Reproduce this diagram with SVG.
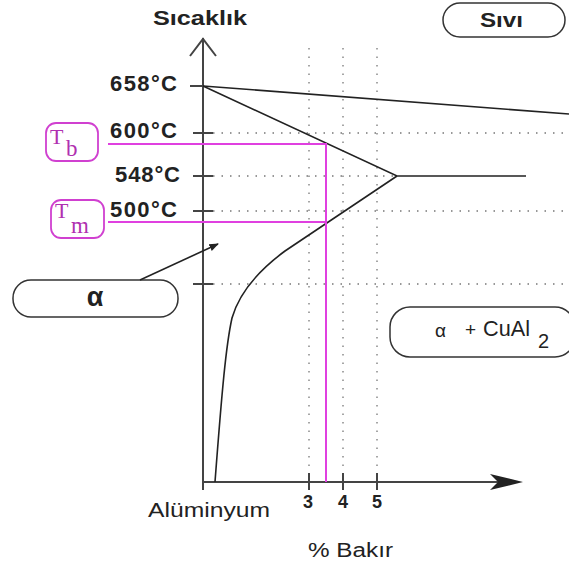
<svg xmlns="http://www.w3.org/2000/svg" width="569" height="567" viewBox="0 0 569 567">
<style>
.ax{stroke:#444;stroke-width:2;fill:none}
.ln{stroke:#222;stroke-width:1.6;fill:none}
.dot{stroke:#777;stroke-width:1.3;stroke-dasharray:1.5 7;fill:none}
.mg{stroke:#e040e0;stroke-width:2;fill:none}
.box{fill:#fff;stroke:#333;stroke-width:1.5}
.mbox{fill:#fff;stroke:#d040d0;stroke-width:1.8}
.lb{font-family:"Liberation Sans",Arial,sans-serif;font-weight:bold;fill:#222}
.rg{font-family:"Liberation Sans",Arial,sans-serif;fill:#222}
.mt{font-family:"Liberation Serif","Times New Roman",serif;fill:#b030b0}
</style>
<defs>
<marker id="ah" viewBox="0 0 10 10" refX="9" refY="5" markerWidth="6" markerHeight="6" orient="auto"><path d="M0,1 L10,5 L0,9 z" fill="#222"/></marker>
</defs>
<g id="grid">
<path class="dot" d="M213,133H569M213,176H397M213,211H569M213,284H569"/>
<path class="dot" d="M309,48V474M343,48V474M377,48V474"/>
</g>
<g id="axes">
<path class="ax" d="M203,38V490M190,56L203,39L216,56"/>
<path class="ax" d="M203,482H500"/>
<path d="M490,474L523,482L490,490L498,482z" fill="#222"/>
<path class="ax" d="M190,86H203M193,133H213M193,176H213M193,211H213M193,284H213"/>
<path class="ax" d="M309,473V490M343,473V490M377,473V490"/>
</g>
<g id="curves">
<path class="ln" d="M203,86L569,114"/>
<path class="ln" d="M203,86L397,176H526"/>
<path class="ln" d="M397,176L285,251C262,268 240,290 232,318C226,345 222,390 215,482"/>
</g>
<g id="magenta">
<path class="mg" d="M108,144H326V482M108,222H326"/>
</g>
<g id="labels">
<text class="lb" x="153" y="25" font-size="21" textLength="94" lengthAdjust="spacingAndGlyphs">Sıcaklık</text>
<text class="lb" x="110" y="91" font-size="22" textLength="67">658°C</text>
<text class="lb" x="110" y="138" font-size="22" textLength="67">600°C</text>
<text class="lb" x="115" y="182" font-size="22" textLength="65">548°C</text>
<text class="lb" x="110" y="217" font-size="22" textLength="67">500°C</text>
<text class="lb" x="308" y="508" text-anchor="middle" font-size="18">3</text>
<text class="lb" x="343" y="508" text-anchor="middle" font-size="18">4</text>
<text class="lb" x="377" y="508" text-anchor="middle" font-size="18">5</text>
<text class="rg" x="148" y="517" font-size="20" textLength="122" lengthAdjust="spacingAndGlyphs">Alüminyum</text>
<text class="rg" x="308" y="557" font-size="20" textLength="85" lengthAdjust="spacingAndGlyphs">% Bakır</text>
</g>
<g id="node-sivi">
<rect class="box" x="443" y="3" width="122" height="34" rx="17"/>
<text class="lb" x="480" y="27" font-size="20" textLength="43" lengthAdjust="spacingAndGlyphs">Sıvı</text>
</g>
<g id="node-tb">
<rect class="mbox" x="46" y="123" width="52" height="38" rx="10"/>
<text class="mt" x="50" y="144" font-size="22">T</text><text class="mt" x="66" y="156" font-size="23">b</text>
</g>
<g id="node-tm">
<rect class="mbox" x="51" y="200" width="53" height="38" rx="10"/>
<text class="mt" x="55" y="218" font-size="22">T</text><text class="mt" x="71" y="233" font-size="23">m</text>
</g>
<g id="node-alpha">
<rect class="box" x="13" y="280" width="165" height="37" rx="18"/>
<text class="lb" x="95" y="306" text-anchor="middle" font-size="27">α</text>
</g>
<g id="node-alpha-cual2">
<rect class="box" x="390" y="307" width="185" height="50" rx="20"/>
<text class="rg" x="435" y="337" font-size="19">α</text>
<text class="rg" x="465" y="336" font-size="19">+</text>
<text class="rg" x="483" y="336" font-size="22" textLength="47" lengthAdjust="spacingAndGlyphs">CuAl</text>
<text class="rg" x="538" y="348" font-size="20">2</text>
</g>
<g id="connectors">
<path class="ln" d="M140,280L218,244" marker-end="url(#ah)"/>
</g>
</svg>
